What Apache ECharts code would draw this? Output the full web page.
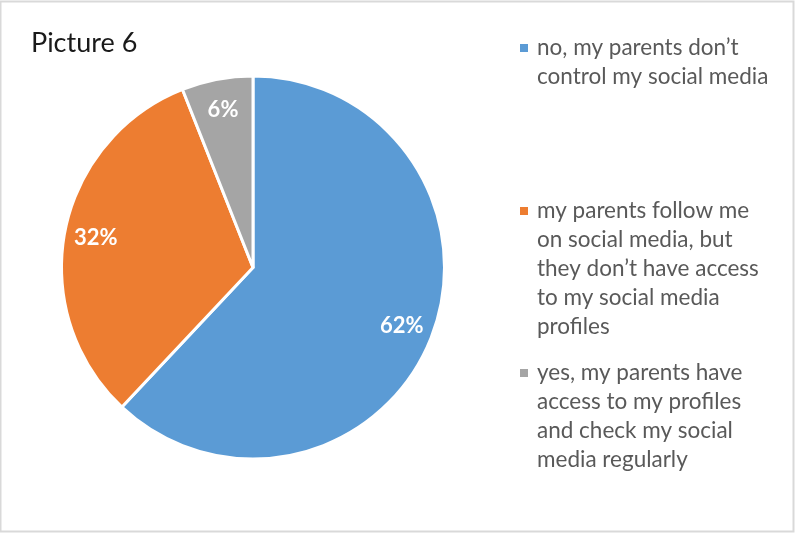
<!DOCTYPE html>
<html>
<head>
<meta charset="utf-8">
<script src="https://cdn.jsdelivr.net/npm/echarts@6/dist/echarts.min.js"></script>
<style>
  html, body { margin: 0; padding: 0; background: #fff; }
  #main { width: 795px; height: 533px; }
</style>
</head>
<body>
<div id="main"></div>
<script>
// Answers and their shares (%)
const categories = [
  'no, my parents don’t control my social media',
  'my parents follow me on social media, but they don’t have access to my social media profiles',
  'yes, my parents have access to my profiles and check my social media regularly'
];
const shares = [62, 32, 6];
// Legend text, wrapped as shown
const legendLines = [
  ['no, my parents don’t', 'control my social media'],
  ['my parents follow me', 'on social media, but', 'they don’t have access', 'to my social media', 'profiles'],
  ['yes, my parents have', 'access to my profiles', 'and check my social', 'media regularly']
];
const colors = ['#5B9BD5', '#ED7D31', '#A5A5A5'];
const legendTops = [31.5, 194.5, 356.5];

const data = categories.map((name, i) => ({ name: name, value: shares[i] }));

const legends = categories.map((name, i) => ({
  data: [name],
  left: 509,
  top: legendTops[i],
  orient: 'vertical',
  icon: 'rect',
  itemWidth: 0,
  itemHeight: 0,
  selectedMode: false,
  formatter: function () {
    return legendLines[i].map((line, k) =>
      (k === 0 ? '{sq|}{gap|}' : '{pad|}') + '{t|' + line + '}'
    ).join('\n');
  },
  textStyle: {
    rich: {
      sq: { width: 8, height: 8, backgroundColor: colors[i] },
      gap: { width: 9 },
      pad: { width: 17 },
      t: { fontFamily: 'Lato', fontSize: 22.5, color: '#595959', lineHeight: 29 }
    }
  }
}));

const chart = echarts.init(document.getElementById('main'), null, { renderer: 'canvas' });
chart.setOption({
  animation: false,
  color: colors,
  title: {
    text: 'Picture 6',
    left: 26,
    top: 25,
    textStyle: { fontFamily: 'Lato', fontSize: 27, fontWeight: 'normal', color: '#1a1a1a' }
  },
  graphic: [{
    type: 'rect',
    shape: { x: 0.5, y: 1.5, width: 793, height: 530 },
    style: { fill: 'none', stroke: '#d9d9d9', lineWidth: 2 },
    silent: true
  }],
  legend: legends,
  series: [
    {
      type: 'pie',
      center: [253, 267.5],
      radius: [0, 191.5],
      startAngle: 90,
      clockwise: true,
      label: { show: false },
      labelLine: { show: false },
      itemStyle: { borderColor: '#ffffff', borderWidth: 3 },
      emphasis: { disabled: true },
      data: data
    },
    {
      // percentage labels, placed in the outer band of each slice
      type: 'pie',
      center: [253, 267.5],
      radius: [124, 190],
      startAngle: 90,
      clockwise: true,
      silent: true,
      itemStyle: { color: 'rgba(0,0,0,0)' },
      labelLine: { show: false },
      label: {
        show: true,
        position: 'inside',
        formatter: '{c}%',
        color: '#ffffff',
        fontFamily: 'Lato',
        fontWeight: 'bold',
        fontSize: 22
      },
      emphasis: { disabled: true },
      data: data
    }
  ]
});
</script>
</body>
</html>
